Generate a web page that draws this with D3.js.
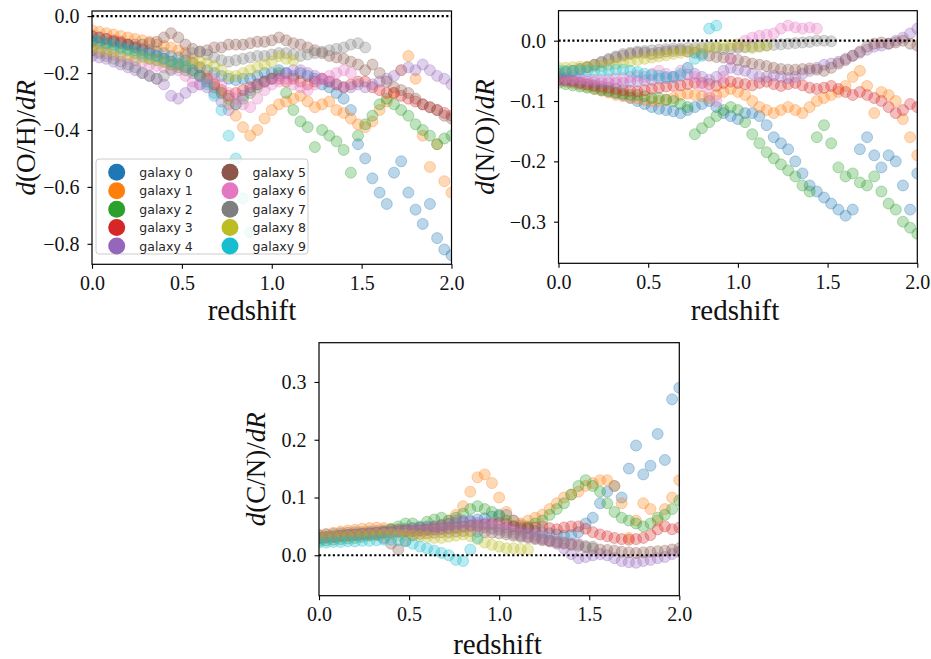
<!DOCTYPE html>
<html>
<head>
<meta charset="utf-8">
<script src="https://cdn.jsdelivr.net/npm/d3@7"></script>
<style>
  body { margin: 0; background: #fff; }
  svg { display: block; }
</style>
</head>
<body>
<svg id="fig" width="931" height="659"></svg>
<script>
// --- Data ---
const redshift = [0, 0.04, 0.08, 0.12, 0.16, 0.2, 0.24, 0.28, 0.32, 0.36,
  0.4, 0.44, 0.48, 0.52, 0.56, 0.6, 0.64, 0.68, 0.72, 0.76,
  0.8, 0.84, 0.88, 0.92, 0.96, 1, 1.04, 1.08, 1.12, 1.16,
  1.2, 1.24, 1.28, 1.32, 1.36, 1.4, 1.44, 1.48, 1.52, 1.56,
  1.6, 1.64, 1.68, 1.72, 1.76, 1.8, 1.84, 1.88, 1.92, 1.96, 2];

const galaxyNames = ["galaxy 0", "galaxy 1", "galaxy 2", "galaxy 3", "galaxy 4",
  "galaxy 5", "galaxy 6", "galaxy 7", "galaxy 8", "galaxy 9"];
const galaxyColors = ["#1f77b4", "#ff7f0e", "#2ca02c", "#d62728", "#9467bd",
  "#8c564b", "#e377c2", "#7f7f7f", "#bcbd22", "#17becf"];

// d(O/H)/dR, one row per galaxy (rows shorter than redshift stop early)
const dOH = [
  [-0.07,-0.075,-0.08,-0.09,-0.095,-0.10,-0.11,-0.115,-0.12,-0.125,
   -0.13,-0.14,-0.145,-0.155,-0.165,-0.18,-0.19,-0.20,-0.21,-0.22,
   -0.225,-0.22,-0.22,-0.21,-0.20,-0.20,-0.19,-0.20,-0.21,-0.20,
   -0.21,-0.22,-0.24,-0.25,-0.27,-0.29,-0.33,-0.45,-0.50,-0.57,
   -0.62,-0.66,-0.55,-0.51,-0.62,-0.68,-0.73,-0.66,-0.78,-0.82,-0.84],
  [-0.05,-0.055,-0.06,-0.065,-0.07,-0.075,-0.08,-0.085,-0.09,-0.10,
   -0.105,-0.11,-0.12,-0.13,-0.15,-0.18,-0.21,-0.24,-0.27,-0.31,
   -0.35,-0.39,-0.42,-0.40,-0.36,-0.33,-0.31,-0.30,-0.29,-0.28,
   -0.30,-0.32,-0.31,-0.30,-0.33,-0.34,-0.36,-0.38,-0.39,-0.37,
   -0.33,-0.30,-0.27,-0.19,-0.14,-0.22,-0.42,-0.53,-0.45,-0.58,-0.62],
  [-0.09,-0.095,-0.10,-0.11,-0.115,-0.12,-0.13,-0.14,-0.15,-0.155,
   -0.16,-0.17,-0.18,-0.19,-0.20,-0.21,-0.23,-0.25,-0.27,-0.29,
   -0.31,-0.29,-0.27,-0.25,-0.23,-0.22,-0.20,-0.27,-0.33,-0.37,
   -0.39,-0.46,-0.40,-0.42,-0.44,-0.47,-0.55,-0.42,-0.38,-0.35,
   -0.31,-0.29,-0.31,-0.33,-0.35,-0.38,-0.40,-0.42,-0.45,-0.43,-0.42],
  [-0.07,-0.075,-0.08,-0.085,-0.09,-0.10,-0.11,-0.12,-0.13,-0.14,
   -0.15,-0.16,-0.17,-0.18,-0.19,-0.21,-0.22,-0.24,-0.26,-0.28,
   -0.27,-0.26,-0.25,-0.24,-0.23,-0.22,-0.22,-0.23,-0.22,-0.23,
   -0.24,-0.23,-0.22,-0.23,-0.24,-0.25,-0.24,-0.23,-0.23,-0.25,
   -0.26,-0.27,-0.27,-0.28,-0.29,-0.30,-0.31,-0.32,-0.33,-0.34,-0.35],
  [-0.14,-0.145,-0.15,-0.16,-0.17,-0.18,-0.19,-0.20,-0.21,-0.22,
   -0.24,-0.28,-0.29,-0.27,-0.25,-0.24,-0.25,-0.27,-0.30,-0.33,
   -0.31,-0.28,-0.26,-0.24,-0.23,-0.22,-0.21,-0.20,-0.19,-0.19,
   -0.20,-0.21,-0.22,-0.23,-0.24,-0.25,-0.25,-0.24,-0.25,-0.24,
   -0.23,-0.22,-0.21,-0.19,-0.18,-0.19,-0.17,-0.19,-0.21,-0.22,-0.24],
  [-0.09,-0.09,-0.095,-0.09,-0.095,-0.10,-0.10,-0.10,-0.095,-0.09,
   -0.075,-0.06,-0.075,-0.10,-0.115,-0.125,-0.12,-0.11,-0.11,-0.10,
   -0.10,-0.10,-0.095,-0.09,-0.09,-0.085,-0.075,-0.085,-0.095,-0.10,
   -0.11,-0.12,-0.13,-0.14,-0.145,-0.15,-0.16,-0.17,-0.19,-0.17,
   -0.20,-0.23,-0.25,-0.26,-0.27,-0.29,-0.31,-0.32,-0.33,-0.35,-0.36],
  [-0.12,-0.125,-0.13,-0.135,-0.14,-0.15,-0.155,-0.16,-0.17,-0.175,
   -0.18,-0.185,-0.19,-0.21,-0.23,-0.24,-0.23,-0.22,-0.24,-0.27,
   -0.29,-0.31,-0.32,-0.29,-0.26,-0.24,-0.23,-0.22,-0.24,-0.25,
   -0.26,-0.24,-0.22,-0.21,-0.20,-0.19,-0.20],
  [-0.12,-0.13,-0.14,-0.15,-0.16,-0.17,-0.18,-0.20,-0.21,-0.22,
   -0.21,-0.19,-0.17,-0.14,-0.13,-0.125,-0.135,-0.145,-0.155,-0.16,
   -0.155,-0.15,-0.145,-0.14,-0.14,-0.135,-0.13,-0.13,-0.135,-0.14,
   -0.135,-0.13,-0.125,-0.12,-0.115,-0.11,-0.10,-0.095,-0.11],
  [-0.11,-0.115,-0.12,-0.125,-0.13,-0.135,-0.14,-0.145,-0.15,-0.155,
   -0.16,-0.165,-0.17,-0.17,-0.165,-0.16,-0.165,-0.175,-0.19,-0.21,
   -0.21,-0.20,-0.19,-0.18,-0.17,-0.16,-0.14,-0.15,-0.155],
  [-0.08,-0.085,-0.095,-0.10,-0.11,-0.115,-0.12,-0.13,-0.135,-0.14,
   -0.15,-0.16,-0.165,-0.175,-0.19,-0.21,-0.24,-0.28,-0.33,-0.42,
   -0.50,-0.64,-0.76]
];

// d(N/O)/dR
const dNO = [
  [-0.06,-0.063,-0.066,-0.07,-0.073,-0.076,-0.08,-0.083,-0.087,-0.09,
   -0.095,-0.10,-0.105,-0.11,-0.113,-0.115,-0.117,-0.12,-0.115,-0.11,
   -0.105,-0.10,-0.11,-0.12,-0.125,-0.13,-0.12,-0.12,-0.125,-0.14,
   -0.16,-0.17,-0.18,-0.20,-0.22,-0.24,-0.25,-0.26,-0.27,-0.28,
   -0.29,-0.28,-0.18,-0.16,-0.19,-0.21,-0.19,-0.20,-0.24,-0.28,-0.22],
  [-0.065,-0.068,-0.07,-0.073,-0.076,-0.08,-0.083,-0.086,-0.09,-0.092,
   -0.094,-0.096,-0.098,-0.10,-0.10,-0.098,-0.095,-0.09,-0.088,-0.09,
   -0.092,-0.095,-0.09,-0.085,-0.08,-0.085,-0.09,-0.10,-0.11,-0.115,
   -0.12,-0.115,-0.11,-0.115,-0.12,-0.11,-0.10,-0.095,-0.09,-0.085,
   -0.075,-0.06,-0.05,-0.075,-0.12,-0.085,-0.09,-0.10,-0.13,-0.16,-0.19],
  [-0.07,-0.072,-0.074,-0.076,-0.078,-0.08,-0.082,-0.084,-0.086,-0.088,
   -0.09,-0.09,-0.092,-0.095,-0.095,-0.098,-0.10,-0.105,-0.11,-0.155,
   -0.145,-0.135,-0.125,-0.115,-0.11,-0.115,-0.135,-0.155,-0.17,-0.185,
   -0.195,-0.205,-0.215,-0.225,-0.24,-0.25,-0.16,-0.14,-0.17,-0.21,
   -0.225,-0.22,-0.235,-0.24,-0.225,-0.25,-0.27,-0.28,-0.30,-0.31,-0.32],
  [-0.065,-0.066,-0.068,-0.07,-0.072,-0.074,-0.076,-0.078,-0.08,-0.082,
   -0.083,-0.084,-0.082,-0.08,-0.078,-0.076,-0.075,-0.074,-0.072,-0.07,
   -0.07,-0.072,-0.075,-0.07,-0.068,-0.07,-0.072,-0.074,-0.07,-0.068,
   -0.072,-0.075,-0.072,-0.07,-0.074,-0.078,-0.08,-0.078,-0.075,-0.08,
   -0.085,-0.09,-0.085,-0.09,-0.095,-0.10,-0.11,-0.12,-0.115,-0.105,-0.11],
  [-0.065,-0.065,-0.066,-0.067,-0.068,-0.069,-0.07,-0.07,-0.07,-0.07,
   -0.068,-0.067,-0.066,-0.065,-0.063,-0.062,-0.06,-0.058,-0.056,-0.055,
   -0.06,-0.065,-0.06,-0.05,-0.045,-0.048,-0.05,-0.055,-0.06,-0.06,
   -0.058,-0.06,-0.062,-0.06,-0.055,-0.05,-0.045,-0.04,-0.038,-0.035,
   -0.03,-0.025,-0.02,-0.015,-0.01,-0.008,-0.005,0.0,0.005,0.012,0.02],
  [-0.055,-0.052,-0.05,-0.047,-0.044,-0.04,-0.036,-0.032,-0.028,-0.025,
   -0.022,-0.02,-0.02,-0.022,-0.02,-0.018,-0.017,-0.016,-0.018,-0.02,
   -0.022,-0.025,-0.027,-0.028,-0.03,-0.032,-0.035,-0.038,-0.04,-0.042,
   -0.045,-0.047,-0.048,-0.048,-0.047,-0.046,-0.048,-0.05,-0.045,-0.038,
   -0.032,-0.025,-0.018,-0.01,-0.005,-0.003,-0.005,-0.003,0.0,-0.005,-0.008],
  [-0.06,-0.061,-0.062,-0.063,-0.064,-0.065,-0.065,-0.064,-0.063,-0.062,
   -0.06,-0.058,-0.06,-0.055,-0.05,-0.055,-0.06,-0.05,-0.045,-0.06,
   -0.075,-0.09,-0.10,-0.06,-0.03,-0.01,0.0,0.005,0.008,0.01,
   0.012,0.02,0.025,0.022,0.02,0.022,0.02],
  [-0.055,-0.052,-0.05,-0.047,-0.044,-0.04,-0.035,-0.03,-0.026,-0.022,
   -0.02,-0.018,-0.017,-0.016,-0.015,-0.014,-0.013,-0.013,-0.012,-0.012,
   -0.011,-0.01,-0.012,-0.014,-0.013,-0.012,-0.011,-0.01,-0.009,-0.008,
   -0.007,-0.006,-0.005,-0.004,-0.003,-0.002,0.0,0.0,-0.001],
  [-0.045,-0.045,-0.044,-0.043,-0.043,-0.042,-0.042,-0.04,-0.038,-0.036,
   -0.034,-0.032,-0.03,-0.028,-0.026,-0.024,-0.022,-0.02,-0.018,-0.016,
   -0.014,-0.012,-0.01,-0.008,-0.008,-0.006,-0.01,-0.012,-0.01,-0.008],
  [-0.05,-0.05,-0.05,-0.05,-0.05,-0.05,-0.05,-0.05,-0.048,-0.048,
   -0.05,-0.052,-0.055,-0.057,-0.058,-0.06,-0.06,-0.055,-0.045,-0.03,
   -0.025,0.02,0.025]
];

// d(C/N)/dR
const dCN = [
  [0.035,0.036,0.037,0.038,0.039,0.04,0.04,0.041,0.042,0.043,
   0.044,0.045,0.046,0.047,0.048,0.05,0.05,0.052,0.054,0.056,
   0.058,0.06,0.062,0.064,0.067,0.07,0.07,0.06,0.052,0.047,
   0.042,0.04,0.038,0.036,0.034,0.035,0.04,0.055,0.065,0.09,
   0.11,0.12,0.10,0.15,0.19,0.14,0.155,0.21,0.165,0.27,0.29],
  [0.035,0.037,0.039,0.041,0.043,0.044,0.046,0.047,0.048,0.047,
   0.046,0.044,0.043,0.042,0.043,0.045,0.048,0.052,0.06,0.07,
   0.085,0.11,0.135,0.14,0.125,0.10,0.075,0.06,0.055,0.06,
   0.065,0.07,0.08,0.09,0.10,0.105,0.11,0.12,0.125,0.13,
   0.13,0.12,0.09,0.03,0.06,0.09,0.08,0.06,0.08,0.10,0.13],
  [0.025,0.026,0.027,0.028,0.029,0.03,0.032,0.034,0.036,0.04,
   0.045,0.05,0.055,0.055,0.05,0.058,0.062,0.065,0.06,0.065,
   0.072,0.08,0.085,0.08,0.075,0.068,0.06,0.05,0.045,0.05,
   0.055,0.06,0.07,0.08,0.09,0.105,0.12,0.13,0.12,0.11,
   0.09,0.075,0.065,0.06,0.055,0.05,0.055,0.065,0.07,0.08,0.095],
  [0.03,0.031,0.032,0.034,0.035,0.036,0.037,0.038,0.039,0.04,
   0.04,0.041,0.042,0.042,0.043,0.044,0.045,0.046,0.047,0.048,
   0.05,0.051,0.052,0.053,0.055,0.056,0.054,0.05,0.048,0.047,
   0.048,0.05,0.047,0.045,0.048,0.05,0.05,0.046,0.04,0.036,
   0.033,0.03,0.028,0.027,0.028,0.03,0.035,0.045,0.05,0.045,0.048],
  [0.03,0.031,0.032,0.033,0.034,0.035,0.036,0.037,0.038,0.039,
   0.04,0.042,0.044,0.046,0.047,0.048,0.05,0.052,0.055,0.06,
   0.06,0.058,0.056,0.055,0.053,0.05,0.048,0.045,0.042,0.038,
   0.034,0.03,0.025,0.02,0.012,0.002,-0.005,-0.003,0.0,0.002,
   0.0,-0.005,-0.01,-0.012,-0.013,-0.01,-0.008,-0.005,-0.003,0.002,0.006],
  [0.03,0.031,0.032,0.033,0.034,0.035,0.036,0.036,0.035,0.03,
   0.02,0.01,0.025,0.035,0.037,0.038,0.039,0.04,0.04,0.041,
   0.042,0.042,0.041,0.04,0.039,0.038,0.036,0.034,0.032,0.03,
   0.028,0.026,0.024,0.022,0.02,0.018,0.016,0.014,0.012,0.01,
   0.009,0.008,0.006,0.005,0.004,0.005,0.006,0.007,0.008,0.01,0.012],
  [0.03,0.031,0.032,0.033,0.034,0.035,0.036,0.037,0.038,0.038,
   0.039,0.04,0.04,0.041,0.042,0.043,0.044,0.045,0.046,0.047,
   0.048,0.05,0.05,0.049,0.048,0.046,0.044,0.04,0.036,0.033,
   0.03,0.028,0.026,0.024,0.022,0.02,0.02],
  [0.03,0.031,0.033,0.034,0.035,0.036,0.037,0.038,0.039,0.04,
   0.04,0.041,0.042,0.042,0.043,0.044,0.045,0.046,0.047,0.048,
   0.05,0.052,0.05,0.048,0.046,0.044,0.04,0.037,0.034,0.032,
   0.03,0.028,0.026,0.024,0.022,0.02,0.018,0.016,0.015],
  [0.03,0.031,0.032,0.032,0.033,0.034,0.035,0.035,0.036,0.036,
   0.036,0.035,0.035,0.034,0.033,0.032,0.03,0.03,0.032,0.034,
   0.036,0.033,0.028,0.022,0.018,0.015,0.012,0.012,0.011,0.01],
  [0.022,0.022,0.023,0.023,0.024,0.024,0.025,0.025,0.026,0.027,
   0.027,0.026,0.024,0.02,0.015,0.012,0.008,0.004,0.0,-0.008,
   -0.01,0.01,0.03]
];

const xTicks = [0, 0.5, 1, 1.5, 2];
const ohTicks = [0, -0.2, -0.4, -0.6, -0.8];
const noTicks = [0, -0.1, -0.2, -0.3];
const cnTicks = [0, 0.1, 0.2, 0.3];

// --- Layout of the three axes (pixels) ---
const panels = [
  { data: dOH, ratio: "O/H", yDomain: [-0.872, 0.018], yTicks: ohTicks,
    left: 92, right: 451.5, top: 11, bottom: 264.3,
    ylabX: 35, xlabX: 252, xlabY: 320, legend: true },
  { data: dNO, ratio: "N/O", yDomain: [-0.369, 0.0497], yTicks: noTicks,
    left: 558.5, right: 917.3, top: 10.7, bottom: 263.3,
    ylabX: 494, xlabX: 735, xlabY: 320, legend: false },
  { data: dCN, ratio: "C/N", yDomain: [-0.070, 0.368], yTicks: cnTicks,
    left: 319, right: 679.3, top: 342.7, bottom: 595.7,
    ylabX: 265, xlabX: 497.5, xlabY: 654, legend: false }
];

const svg = d3.select("#fig");
const defs = svg.append("defs");
const serif = "'Liberation Serif', 'Times New Roman', serif";
const fmt = d3.format(".1f");

panels.forEach((p, pi) => {
  const x = d3.scaleLinear().domain([0, 2]).range([p.left, p.right]);
  const y = d3.scaleLinear().domain(p.yDomain).range([p.bottom, p.top]);

  defs.append("clipPath").attr("id", `clip${pi}`)
    .append("rect")
    .attr("x", p.left).attr("y", p.top)
    .attr("width", p.right - p.left).attr("height", p.bottom - p.top);

  const plot = svg.append("g").attr("clip-path", `url(#clip${pi})`);

  // scatter, galaxy 0 drawn first
  p.data.forEach((vals, gi) => {
    plot.append("g")
      .selectAll("circle")
      .data(vals)
      .join("circle")
      .attr("cx", (d, i) => x(redshift[i]))
      .attr("cy", d => y(d))
      .attr("r", 5.5)
      .attr("fill", galaxyColors[gi])
      .attr("fill-opacity", 0.3)
      .attr("stroke", galaxyColors[gi])
      .attr("stroke-opacity", 0.32)
      .attr("stroke-width", 1);
  });

  // zero line
  plot.append("line")
    .attr("x1", p.left).attr("x2", p.right)
    .attr("y1", y(0)).attr("y2", y(0))
    .attr("stroke", "#000")
    .attr("stroke-width", 2.2)
    .attr("stroke-dasharray", "2.2,2.4");

  // frame
  svg.append("rect")
    .attr("x", p.left).attr("y", p.top)
    .attr("width", p.right - p.left).attr("height", p.bottom - p.top)
    .attr("fill", "none").attr("stroke", "#000").attr("stroke-width", 1.2);

  // axes
  const xAxis = svg.append("g")
    .attr("transform", `translate(0,${p.bottom})`)
    .call(d3.axisBottom(x).tickValues(xTicks).tickFormat(fmt)
      .tickSize(4.5).tickSizeOuter(0).tickPadding(7));
  const yAxis = svg.append("g")
    .attr("transform", `translate(${p.left},0)`)
    .call(d3.axisLeft(y).tickValues(p.yTicks).tickFormat(fmt)
      .tickSize(4.5).tickSizeOuter(0).tickPadding(8));

  [xAxis, yAxis].forEach(a => {
    a.select(".domain").remove();
    a.selectAll(".tick line").attr("stroke", "#000").attr("stroke-width", 1.1);
    a.selectAll(".tick text")
      .style("font-family", serif)
      .style("font-size", "20px")
      .attr("fill", "#111");
  });

  // x label
  svg.append("text")
    .attr("x", p.xlabX).attr("y", p.xlabY)
    .attr("text-anchor", "middle")
    .style("font-family", serif)
    .style("font-size", "29px")
    .attr("fill", "#111")
    .text("redshift");

  // y label: d(X/Y)/dR
  const yl = svg.append("text")
    .attr("transform", `translate(${p.ylabX},${(p.top + p.bottom) / 2}) rotate(-90)`)
    .attr("text-anchor", "middle")
    .style("font-family", serif)
    .style("font-size", "27px")
    .attr("fill", "#111");
  yl.append("tspan").style("font-style", "italic").text("d");
  yl.append("tspan").text(`(${p.ratio})/`);
  yl.append("tspan").style("font-style", "italic").text("dR");

  // legend
  if (p.legend) {
    const lg = svg.append("g");
    lg.append("rect")
      .attr("x", 96).attr("y", 159).attr("width", 212).attr("height", 95)
      .attr("rx", 3)
      .attr("fill", "#fff").attr("fill-opacity", 0.8)
      .attr("stroke", "#cccccc").attr("stroke-width", 1);

    const rowY = d3.scalePoint().domain(d3.range(5)).range([172.3, 246]);
    const colX = [116.7, 230];
    galaxyNames.forEach((name, gi) => {
      const cx = colX[Math.floor(gi / 5)];
      const cy = rowY(gi % 5);
      lg.append("circle")
        .attr("cx", cx).attr("cy", cy).attr("r", 8.5)
        .attr("fill", galaxyColors[gi]);
      lg.append("text")
        .attr("x", cx + 22.6).attr("y", cy + 4.5)
        .style("font-family", "'DejaVu Sans', sans-serif")
        .style("font-size", "12.5px")
        .attr("fill", "#262626")
        .text(name);
    });
  }
});
</script>
</body>
</html>
